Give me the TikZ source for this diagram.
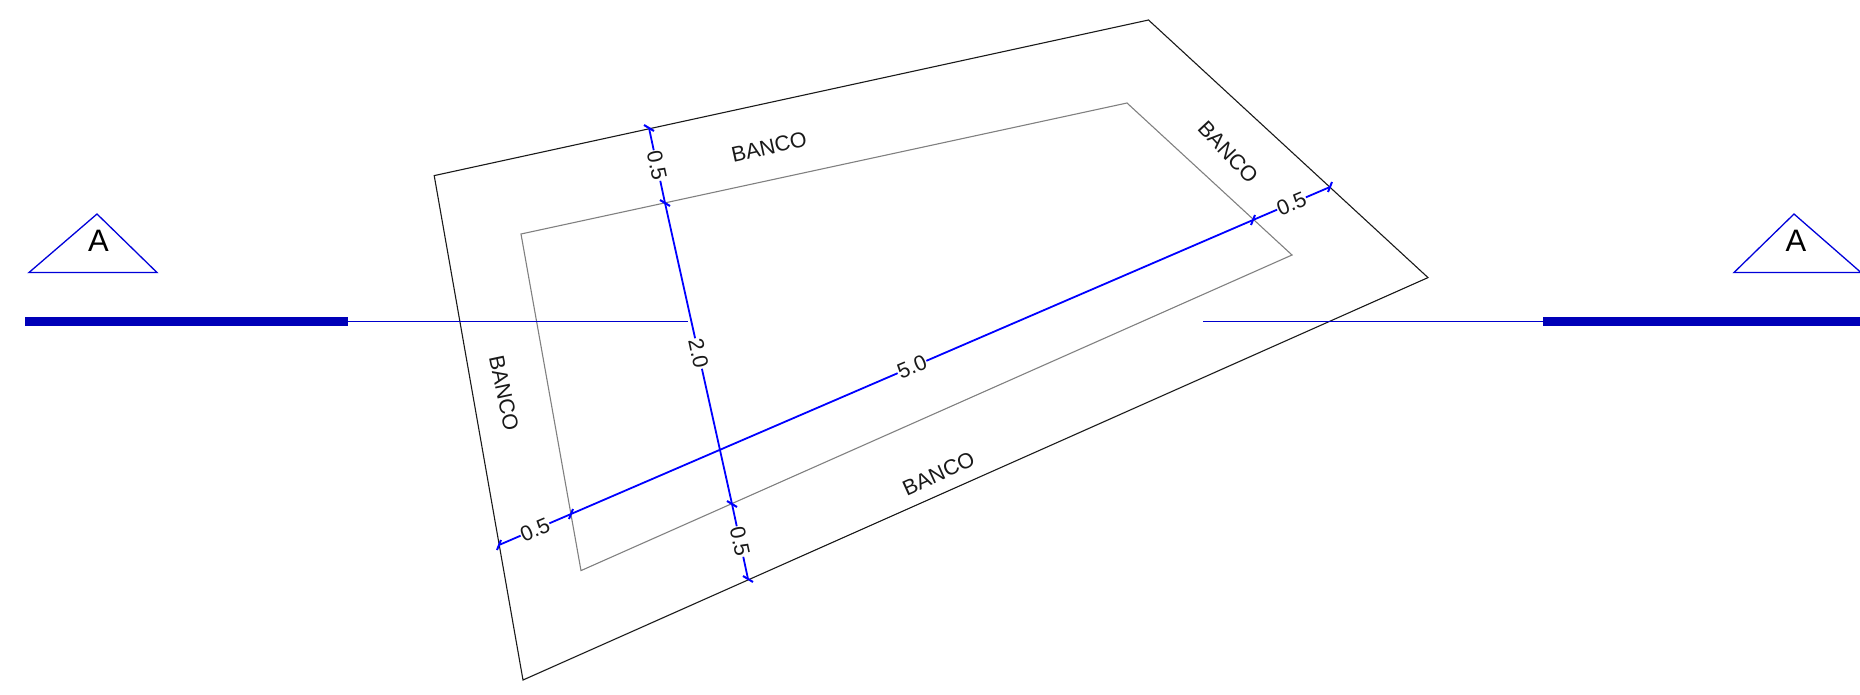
\documentclass[tikz,border=0pt]{standalone}
\usepackage{fontspec}
\setmainfont{Liberation Sans}
\usetikzlibrary{calc}
\tikzset{
  outer/.style={draw=black!90,line width=1.1pt,line join=miter},
  inner/.style={draw=black!50,line width=1.1pt,line join=miter},
  dimline/.style={draw=blue,line width=1.8pt},
  tickmark/.style={draw=blue,line width=2pt},
  dimtext/.style={font=\fontsize{21.5}{23}\selectfont,inner sep=0.5pt,text=black!90},
  banco/.style={font=\fontsize{21.5}{23}\selectfont,inner sep=0pt,text=black!90},
  cutbar/.style={draw=blue!72!black,line width=9pt},
  cutline/.style={draw=blue!80!black,line width=1.4pt},
  marker/.style={draw=blue!85!black,line width=1.3pt,line join=miter},
  mark letter/.style={font=\fontsize{31}{33}\selectfont,inner sep=0pt,text=black}
}
\begin{document}
\begin{tikzpicture}[x=1pt,y=-1pt]
\useasboundingbox (0,0) rectangle (1860,694);
\clip (0,0) rectangle (1860,694);
% plan outlines
\coordinate (o1) at (434.2,175.6);
\coordinate (o2) at (1148.5,20);
\coordinate (o3) at (1428,277.6);
\coordinate (o4) at (523,680);
\coordinate (i1) at (521,234);
\coordinate (i2) at (1127,103);
\coordinate (i3) at (1292,255);
\coordinate (i4) at (581,570.6);
\draw[outer] (o1) -- (o2) -- (o3) -- (o4) -- cycle;
\draw[inner] (i1) -- (i2) -- (i3) -- (i4) -- cycle;
% section line
\coordinate (bl1) at (25,321.5);
\coordinate (bl2) at (348,321.5);
\coordinate (cl) at (688,321.5);
\coordinate (cr) at (1203,321.5);
\coordinate (br2) at (1543,321.5);
\coordinate (br1) at (1860,321.5);
\draw[cutbar] (bl1) -- (bl2);
\draw[cutline] (bl2) -- (cl);
\draw[cutline] (cr) -- (br2);
\draw[cutbar] (br2) -- (br1);
% section markers
\coordinate (ta) at (97,214);
\coordinate (tb) at (29,272.5);
\coordinate (tc) at (157,272.5);
\coordinate (ua) at (1794,214);
\coordinate (ub) at (1734,272.5);
\coordinate (uc) at (1861,272.5);
\draw[marker] (ta) -- (tb) -- (tc) -- cycle;
\draw[marker] (ua) -- (ub) -- (uc) -- cycle;
\node[mark letter] (ml) at (98.5,241) {A};
\node[mark letter] (mr) at (1796,241) {A};
% dimension points
\coordinate (v1) at (649,128);
\coordinate (v2) at (665,203);
\coordinate (v3) at (732,504);
\coordinate (v4) at (748,579);
\coordinate (h1) at (499,545);
\coordinate (h2) at (571,514);
\coordinate (h3) at (1253,220);
\coordinate (h4) at (1330,187);
% dimension labels
\node[dimtext,rotate=-78] (lv1) at ($(v1)!.5!(v2)$) {0.5};
\node[dimtext,rotate=-78] (lv2) at ($(v2)!.5!(v3)$) {2.0};
\node[dimtext,rotate=-78] (lv3) at ($(v3)!.5!(v4)$) {0.5};
\node[dimtext,rotate=23] (lh1) at ($(h1)!.5!(h2)$) {0.5};
\node[dimtext,rotate=23] (lh2) at ($(h2)!.5!(h3)$) {5.0};
\node[dimtext,rotate=23] (lh3) at ($(h3)!.5!(h4)$) {0.5};
% dimension lines
\foreach \a/\l/\b in {v1/lv1/v2,v2/lv2/v3,v3/lv3/v4,h1/lh1/h2,h2/lh2/h3,h3/lh3/h4}{
  \draw[dimline] (\a) -- (\l);
  \draw[dimline] (\l) -- (\b);
}
\foreach \p in {v1,v2,v3,v4}{
  \draw[tickmark] ([shift={(-5,-3)}]\p) -- ([shift={(5,3)}]\p);
}
\foreach \p in {h1,h2,h3,h4}{
  \draw[tickmark] ([shift={(2,-5)}]\p) -- ([shift={(-2,5)}]\p);
}
% BANCO labels
\node[banco,rotate=12.5] (b1) at (769,147) {BANCO};
\node[banco,rotate=-47] (b2) at (1228,152) {BANCO};
\node[banco,rotate=-78] (b3) at (504,393) {BANCO};
\node[banco,rotate=24.5] (b4) at (938.5,473.5) {BANCO};
\end{tikzpicture}
\end{document}
